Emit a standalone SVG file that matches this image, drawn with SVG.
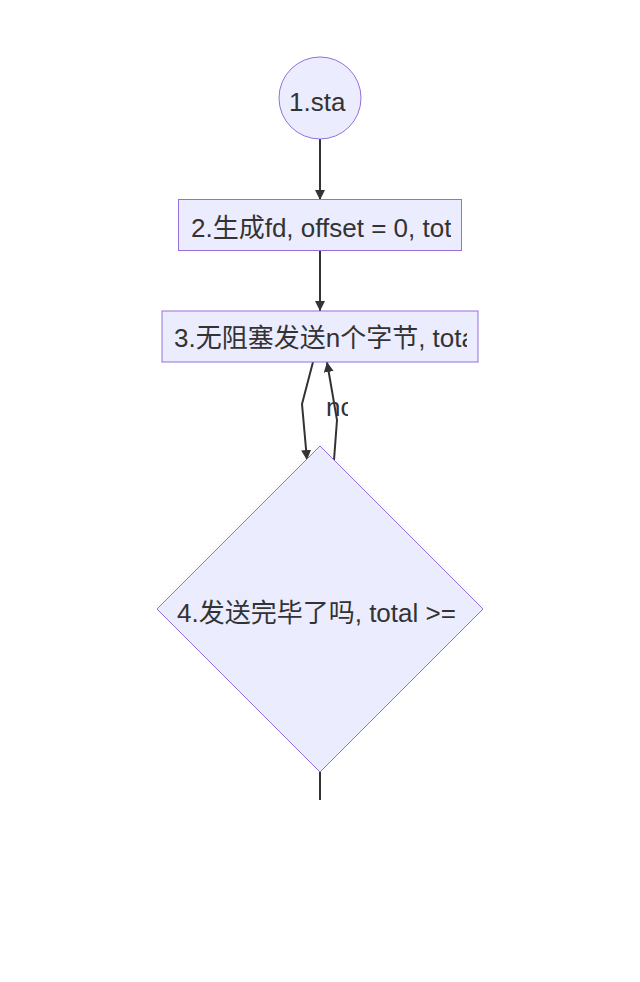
<svg xmlns="http://www.w3.org/2000/svg" width="640" height="982" viewBox="0 0 640 982">
<style>
.node{fill:#ECECFF;stroke:#9370DB;stroke-width:1px;}
.lbl{font-family:"Liberation Sans","Noto Sans CJK SC",sans-serif;font-size:26px;fill:#333333;}
.edge{fill:none;stroke:#333333;stroke-width:2px;}
</style>
<defs>
<marker id="arrow" viewBox="0 0 10 10" refX="10" refY="5" markerWidth="10" markerHeight="10" markerUnits="userSpaceOnUse" orient="auto">
<path d="M0,0 L10,5 L0,10 z" fill="#333333"/>
</marker>
<clipPath id="c1"><rect x="280" y="80" width="68" height="40"/></clipPath>
<clipPath id="c2"><rect x="186" y="205" width="265" height="40"/></clipPath>
<clipPath id="c3"><rect x="168" y="316" width="299" height="40"/></clipPath>
<clipPath id="c4"><rect x="172" y="590" width="285" height="40"/></clipPath>
<clipPath id="c5"><rect x="322" y="390" width="26" height="36"/></clipPath>
</defs>
<rect width="640" height="982" fill="#ffffff"/>
<g id="connectors">
<path class="edge" d="M320,139 L320,200" marker-end="url(#arrow)"/>
<path class="edge" d="M320,250 L320,311" marker-end="url(#arrow)"/>
<path class="edge" d="M313,362 L302,404 L307,460" marker-end="url(#arrow)"/>
<path class="edge" d="M334,460 L337,420 L327,362" marker-end="url(#arrow)"/>
<path class="edge" d="M320,772 L320,800"/>
<g id="label-no"><text class="lbl" x="326" y="416" clip-path="url(#c5)">no</text></g>
</g>
<g id="node1">
<circle class="node" cx="320" cy="98" r="41"/>
<text class="lbl" x="289" y="111" clip-path="url(#c1)">1.sta</text>
</g>
<g id="node2">
<rect class="node" x="178.5" y="199.5" width="283" height="51"/>
<text class="lbl" x="191" y="237" clip-path="url(#c2)">2.生成fd, offset = 0, tot</text>
</g>
<g id="node3">
<rect class="node" x="162" y="311" width="316" height="51"/>
<text class="lbl" x="174" y="347" clip-path="url(#c3)">3.无阻塞发送n个字节, tota</text>
</g>
<g id="node4">
<polygon class="node" points="320,446 483,609 320,772 157,609"/>
<text class="lbl" x="177" y="622" clip-path="url(#c4)">4.发送完毕了吗, total &gt;=</text>
</g>
</svg>
